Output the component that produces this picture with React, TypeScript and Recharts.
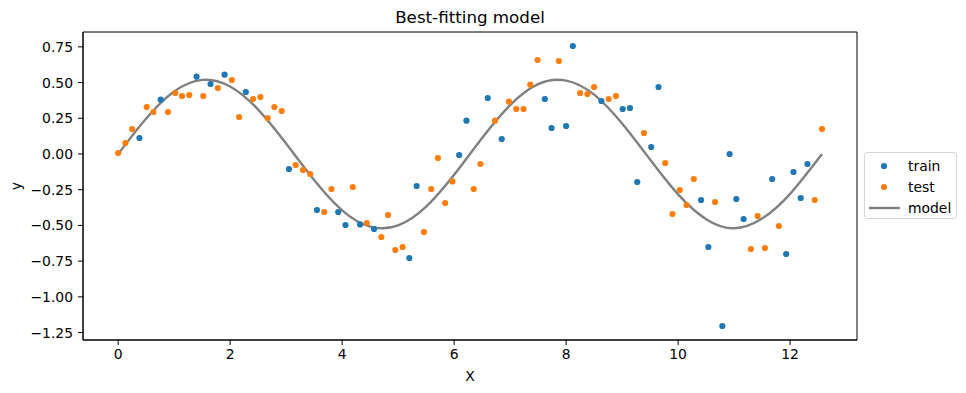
import { ComposedChart, Line, Scatter, XAxis, YAxis, ReferenceArea } from 'recharts';

const trainX = [0.38, 0.76, 1.40, 1.65, 1.90, 2.28, 3.05, 3.55, 3.93, 4.06, 4.32, 4.57, 5.20, 5.33, 6.09, 6.22, 6.60, 6.85, 7.62, 7.74, 8.00, 8.12, 8.63, 9.01, 9.14, 9.27, 9.52, 9.65, 10.41, 10.54, 10.79, 10.92, 11.04, 11.17, 11.68, 11.93, 12.06, 12.19, 12.31];
const trainY = [0.112, 0.38, 0.541, 0.49, 0.555, 0.434, -0.105, -0.392, -0.406, -0.497, -0.493, -0.525, -0.728, -0.224, -0.007, 0.233, 0.392, 0.105, 0.385, 0.182, 0.196, 0.756, 0.371, 0.315, 0.322, -0.196, 0.049, 0.469, -0.322, -0.651, -1.204, 0.0, -0.315, -0.455, -0.175, -0.70, -0.126, -0.308, -0.07];

const testX = [0.00, 0.13, 0.25, 0.51, 0.63, 0.89, 1.02, 1.14, 1.27, 1.52, 1.78, 2.03, 2.16, 2.41, 2.54, 2.67, 2.79, 2.92, 3.17, 3.30, 3.43, 3.68, 3.81, 4.19, 4.44, 4.70, 4.82, 4.95, 5.08, 5.46, 5.59, 5.71, 5.84, 5.97, 6.35, 6.47, 6.73, 6.98, 7.11, 7.24, 7.36, 7.49, 7.87, 8.25, 8.38, 8.50, 8.76, 8.89, 9.39, 9.77, 9.90, 10.03, 10.15, 10.28, 10.66, 11.30, 11.42, 11.55, 11.80, 12.44, 12.57];
const testY = [0.007, 0.077, 0.175, 0.329, 0.294, 0.294, 0.427, 0.406, 0.413, 0.406, 0.462, 0.518, 0.259, 0.385, 0.399, 0.252, 0.329, 0.301, -0.077, -0.112, -0.14, -0.406, -0.245, -0.231, -0.483, -0.581, -0.427, -0.672, -0.651, -0.546, -0.245, -0.028, -0.343, -0.192, -0.245, -0.07, 0.233, 0.366, 0.315, 0.315, 0.485, 0.658, 0.651, 0.427, 0.42, 0.469, 0.385, 0.406, 0.147, -0.063, -0.42, -0.252, -0.357, -0.175, -0.336, -0.665, -0.434, -0.658, -0.504, -0.322, 0.175];

const modelX = [0, 0.5, 1, 1.5, 2, 2.5, 3, 3.5, 4, 4.5, 5, 5.5, 6, 6.5, 7, 7.5, 8, 8.5, 9, 9.5, 10, 10.5, 11, 11.5, 12, 12.57];
const modelY = [0, 0.249, 0.438, 0.519, 0.473, 0.311, 0.073, -0.182, -0.394, -0.508, -0.499, -0.368, -0.145, 0.112, 0.342, 0.489, 0.514, 0.416, 0.214, -0.039, -0.283, -0.456, -0.52, -0.452, -0.279, 0];

const xTicks = [0, 2, 4, 6, 8, 10, 12];
const yTicks = [-1.25, -1.0, -0.75, -0.5, -0.25, 0, 0.25, 0.5, 0.75];

const train = trainX.map((x, i) => ({ x, y: trainY[i] }));
const test = testX.map((x, i) => ({ x, y: testY[i] }));
const model = modelX.map((x, i) => ({ x, y: modelY[i] }));

const X_DOMAIN: [number, number] = [-0.628, 13.195];
const Y_DOMAIN: [number, number] = [-1.302, 0.854];

const BLUE = '#1f77b4';
const ORANGE = '#ff7f0e';
const GRAY = '#808080';
const FONT = 'DejaVu Sans, sans-serif';

const fmtY = (v: number) => (v < 0 ? '\u2212' + Math.abs(v).toFixed(2) : v.toFixed(2));

const dot = (color: string) => (props: any) => (
  <circle cx={props.cx} cy={props.cy} r={3.1} fill={color} />
);

function LegendBox() {
  const row = { display: 'flex', alignItems: 'center', height: 21 } as const;
  return (
    <div
      style={{
        position: 'absolute',
        left: 864,
        top: 152,
        width: 93,
        height: 67,
        boxSizing: 'border-box',
        border: '1px solid #d6d6d6',
        borderRadius: 3,
        background: '#fff',
        padding: '2px 0 0 0',
        fontFamily: FONT,
        fontSize: 13.9,
        color: '#000',
      }}
    >
      <div style={row}>
        <svg width={43} height={10}>
          <circle cx={19} cy={5} r={3.1} fill={BLUE} />
        </svg>
        <span>train</span>
      </div>
      <div style={row}>
        <svg width={43} height={10}>
          <circle cx={19} cy={5} r={3.1} fill={ORANGE} />
        </svg>
        <span>test</span>
      </div>
      <div style={row}>
        <svg width={43} height={10}>
          <line x1={4} y1={5} x2={35} y2={5} stroke={GRAY} strokeWidth={2.4} />
        </svg>
        <span>model</span>
      </div>
    </div>
  );
}

export default function App() {
  return (
    <div style={{ position: 'absolute', left: 0, top: 0, width: 966, height: 393, background: '#fff' }}>
      <div
        style={{
          position: 'absolute',
          left: 0,
          top: 7,
          width: 940,
          textAlign: 'center',
          fontFamily: FONT,
          fontSize: 16.7,
          color: '#000',
        }}
      >
        Best-fitting model
      </div>
      <ComposedChart width={966} height={393} margin={{ top: 32, right: 109, bottom: 12, left: 0 }}>
        <XAxis
          dataKey="x"
          type="number"
          domain={X_DOMAIN}
          ticks={xTicks}
          allowDataOverflow
          height={41}
          tickSize={5}
          tickMargin={4}
          stroke="#000"
          tick={{ fill: '#000', fontSize: 13.9, fontFamily: FONT }}
          label={{ value: 'X', position: 'insideBottom', offset: 0, fill: '#000', fontSize: 13.9, fontFamily: FONT }}
        />
        <YAxis
          dataKey="y"
          type="number"
          domain={Y_DOMAIN}
          ticks={yTicks}
          allowDataOverflow
          width={83}
          tickSize={5}
          tickMargin={5}
          tickFormatter={fmtY}
          stroke="#000"
          tick={{ fill: '#000', fontSize: 13.9, fontFamily: FONT }}
          label={{
            value: 'y',
            angle: -90,
            position: 'insideLeft',
            offset: 16,
            fill: '#000',
            fontSize: 13.9,
            fontFamily: FONT,
            style: { textAnchor: 'middle' },
          }}
        />
        <ReferenceArea
          x1={X_DOMAIN[0]}
          x2={X_DOMAIN[1]}
          y1={Y_DOMAIN[0]}
          y2={Y_DOMAIN[1]}
          fill="none"
          stroke="#000"
          strokeWidth={1}
          fillOpacity={0}
        />
        <Scatter name="train" data={train} fill={BLUE} shape={dot(BLUE)} isAnimationActive={false} />
        <Scatter name="test" data={test} fill={ORANGE} shape={dot(ORANGE)} isAnimationActive={false} />
        <Line
          name="model"
          data={model}
          dataKey="y"
          type="natural"
          stroke={GRAY}
          strokeWidth={2.4}
          dot={false}
          activeDot={false}
          isAnimationActive={false}
        />
      </ComposedChart>
      <LegendBox />
    </div>
  );
}
